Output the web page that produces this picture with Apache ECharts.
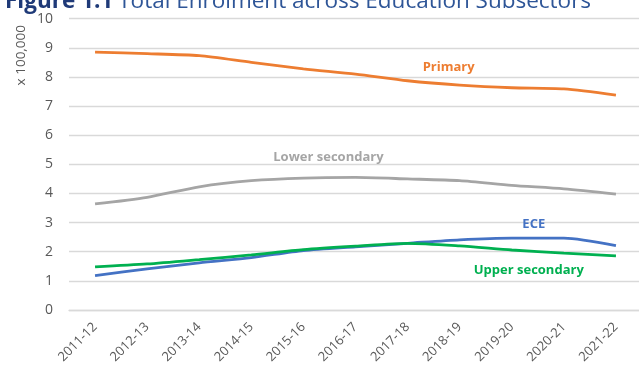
<!DOCTYPE html>
<html>
<head>
<meta charset="utf-8">
<script src="https://cdn.jsdelivr.net/npm/echarts@6/dist/echarts.min.js"></script>
<style>
  html, body { margin: 0; padding: 0; background: #fff; }
  #chart { width: 639px; height: 369px; }
</style>
</head>
<body>
<div id="chart"></div>
<script>
// School years on the category axis
const years = ['2011-12', '2012-13', '2013-14', '2014-15', '2015-16', '2016-17',
               '2017-18', '2018-19', '2019-20', '2020-21', '2021-22'];

// Enrolment in units of 100,000 students
const primary        = [8.85, 8.80, 8.73, 8.50, 8.28, 8.10, 7.87, 7.72, 7.63, 7.59, 7.38];
const lowerSecondary = [3.64, 3.87, 4.23, 4.44, 4.53, 4.55, 4.50, 4.44, 4.28, 4.16, 3.98];
const ece            = [1.18, 1.41, 1.62, 1.80, 2.04, 2.17, 2.29, 2.41, 2.47, 2.47, 2.21];
const upperSecondary = [1.48, 1.58, 1.73, 1.89, 2.07, 2.19, 2.29, 2.20, 2.06, 1.95, 1.86];

// Y-axis tick range
const yMin = 0, yMax = 10, yStep = 1;

const FONT = '"Open Sans", "Noto Sans", sans-serif';

// Attach the series name as a label on one chosen point of each line
function withNameLabel(values, idx, text, color, label) {
  return values.map((v, i) => {
    if (i !== idx) return v;
    return {
      value: v,
      label: Object.assign({
        show: true,
        formatter: text,
        color: color,
        fontFamily: FONT,
        fontWeight: 'bold',
        fontSize: 13
      }, label)
    };
  });
}

function lineSeries(name, data, color) {
  return {
    name: name,
    type: 'line',
    data: data,
    smooth: 0.25,
    symbol: 'circle',
    symbolSize: 0,
    showSymbol: true,
    lineStyle: { color: color, width: 2.8 },
    itemStyle: { color: color },
    emphasis: { disabled: true },
    animation: false
  };
}

const chart = echarts.init(document.getElementById('chart'), null, { renderer: 'canvas' });

chart.setOption({
  backgroundColor: '#ffffff',
  animation: false,
  title: {
    text: '{a|Figure 1.1} {b|Total Enrolment across Education Subsectors}',
    left: 0,
    top: -15,
    textStyle: {
      rich: {
        a: { fontFamily: FONT, fontSize: 22.5, fontWeight: 'bold', color: '#1f3a78' },
        b: { fontFamily: FONT, fontSize: 22.5, fontWeight: 'normal', color: '#2e5597' }
      }
    }
  },
  graphic: [{
    type: 'text',
    left: 14,
    top: 25,
    rotation: Math.PI / 2,
    style: {
      text: 'x 100,000',
      fontFamily: FONT,
      fontSize: 13.5,
      fill: '#595959'
    }
  }],
  grid: {
    left: 69,
    top: 18.7,
    width: 573,
    height: 291.3,
    containLabel: false,
    outerBoundsMode: 'none'
  },
  xAxis: {
    type: 'category',
    data: years,
    boundaryGap: true,
    axisLine: { show: true, lineStyle: { color: '#d9d9d9', width: 1.3 } },
    axisTick: { show: false },
    axisLabel: {
      rotate: 45,
      margin: 15,
      color: '#595959',
      fontFamily: FONT,
      fontSize: 13,
      interval: 0
    }
  },
  yAxis: {
    type: 'value',
    min: yMin,
    max: yMax,
    interval: yStep,
    axisLine: { show: false },
    axisTick: { show: false },
    splitLine: { lineStyle: { color: '#d9d9d9', width: 1.3 } },
    axisLabel: {
      margin: 16,
      color: '#595959',
      fontFamily: FONT,
      fontSize: 14
    }
  },
  series: [
    lineSeries('Primary',
      withNameLabel(primary, 7, 'Primary', '#ed7d31',
        { position: 'top', distance: 11, offset: [-11, 0] }),
      '#ed7d31'),
    lineSeries('Lower secondary',
      withNameLabel(lowerSecondary, 4, 'Lower secondary', '#a5a5a5',
        { position: 'top', distance: 14, offset: [25, 0] }),
      '#a5a5a5'),
    lineSeries('ECE',
      withNameLabel(ece, 8, 'ECE', '#4472c4',
        { position: 'top', distance: 7, offset: [22, 0] }),
      '#4472c4'),
    lineSeries('Upper secondary',
      withNameLabel(upperSecondary, 8, 'Upper secondary', '#00b050',
        { position: 'bottom', distance: 14, offset: [17, 0] }),
      '#00b050')
  ]
});
</script>
</body>
</html>
